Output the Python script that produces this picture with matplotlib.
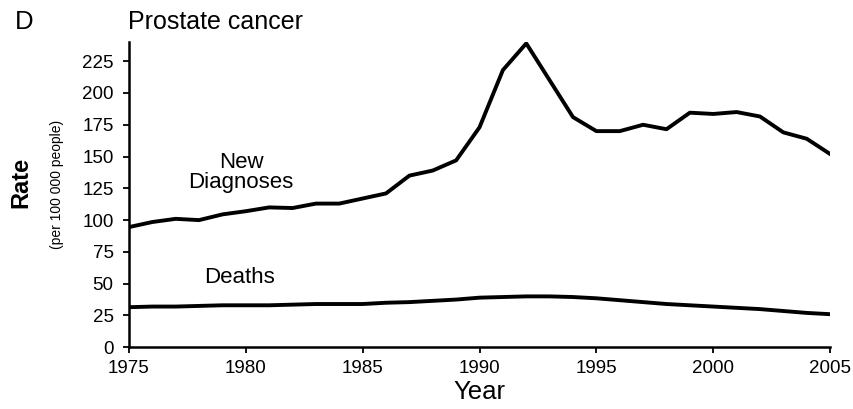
import matplotlib
matplotlib.use("Agg")
import matplotlib.pyplot as plt

plt.rcParams['font.family'] = ['Liberation Sans', 'DejaVu Sans']

years = list(range(1975, 2006))
new_diagnoses = [94.5, 98.5, 101, 100, 104.5, 107, 110, 109.5, 113, 113,
                 117, 121, 135, 139, 147, 173, 218, 239, 210, 181,
                 170, 170, 175, 171.5, 184.5, 183.5, 185, 181.5, 169, 164, 152]
deaths = [31.5, 32, 32, 32.5, 33, 33, 33, 33.5, 34, 34,
          34, 35, 35.5, 36.5, 37.5, 39, 39.5, 40, 40, 39.5,
          38.5, 37, 35.5, 34, 33, 32, 31, 30, 28.5, 27, 26]
yticks = [0, 25, 50, 75, 100, 125, 150, 175, 200, 225]
xticks = [1975, 1980, 1985, 1990, 1995, 2000, 2005]

fig = plt.figure(figsize=(8.54, 4.09), dpi=100)
ax = fig.add_axes([0.151, 0.151, 0.821, 0.746])

ax.plot(years, new_diagnoses, color='black', lw=2.8)
ax.plot(years, deaths, color='black', lw=2.8)

ax.set_xlim(1975, 2005)
ax.set_ylim(0, 240)
ax.set_xticks(xticks)
ax.set_yticks(yticks)
ax.tick_params(axis='both', direction='out', length=4.5, width=1.3,
               labelsize=13.5, color='black')
ax.tick_params(axis='x', pad=5)
ax.tick_params(axis='y', pad=6.5)
for s in ('top', 'right'):
    ax.spines[s].set_visible(False)
for s in ('left', 'bottom'):
    ax.spines[s].set_linewidth(1.8)

ax.set_xlabel('Year', fontsize=18.5, labelpad=2)

ax.text(1979.8, 137.5, 'New\nDiagnoses', ha='center', va='center',
        fontsize=16, linespacing=0.95)
ax.text(1979.75, 55, 'Deaths', ha='center', va='center', fontsize=16)

fig.text(0.024, 0.554, 'Rate', rotation=90, ha='center', va='center',
         fontsize=17, fontweight='bold')
fig.text(0.067, 0.548, '(per 100 000 people)', rotation=90, ha='center',
         va='center', fontsize=10)
fig.text(0.150, 0.945, 'Prostate cancer', ha='left', va='center', fontsize=18)
fig.text(0.018, 0.945, 'D', ha='left', va='center', fontsize=18.5)

fig.savefig('out.png', dpi=100)
